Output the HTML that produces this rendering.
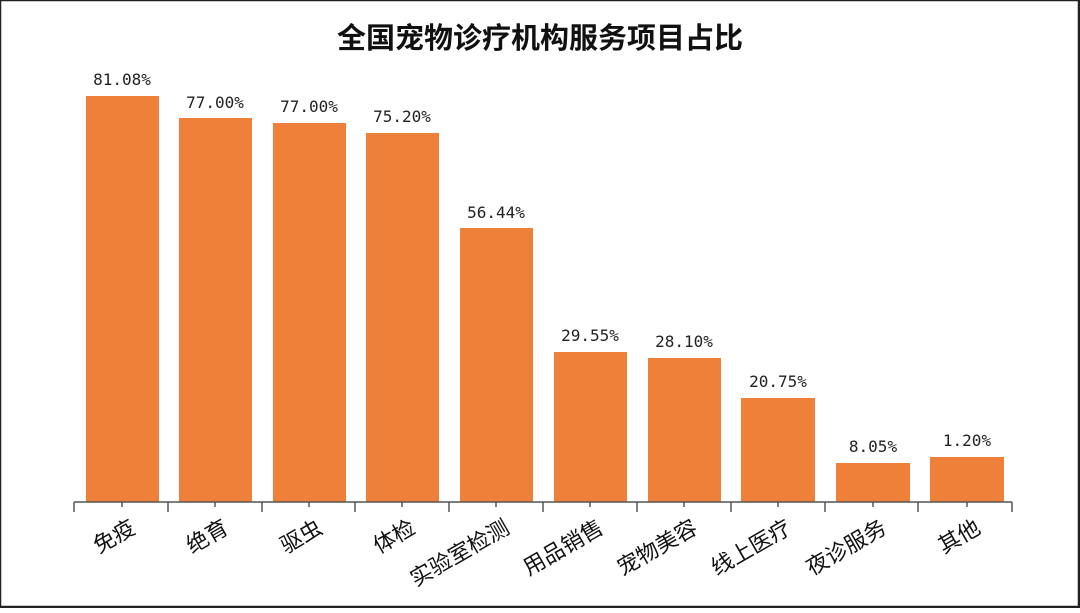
<!DOCTYPE html>
<html><head><meta charset="utf-8"><style>
body{margin:0;width:1080px;height:608px;overflow:hidden;background:#fff}
</style></head><body>
<svg width="1080" height="608" xmlns="http://www.w3.org/2000/svg">
<rect x="0.5" y="0.5" width="1078" height="606" fill="#fff" stroke="#222" stroke-width="1.5"/>
<rect x="1078" y="0" width="2" height="608" fill="#222"/>
<rect x="0" y="606" width="1080" height="2" fill="#222"/>
<text x="540" y="48" text-anchor="middle" font-family="'Liberation Sans','Noto Sans CJK SC',sans-serif" font-size="29" font-weight="bold" fill="#111">全国宠物诊疗机构服务项目占比</text>
<g fill="#ee803a">
<rect x="86" y="96" width="73" height="406"/>
<rect x="179" y="118" width="73" height="384"/>
<rect x="273" y="123" width="73" height="379"/>
<rect x="366" y="133" width="73" height="369"/>
<rect x="460" y="228" width="73" height="274"/>
<rect x="554" y="352" width="73" height="150"/>
<rect x="648" y="358" width="73" height="144"/>
<rect x="741" y="398" width="74" height="104"/>
<rect x="836" y="463" width="74" height="39"/>
<rect x="930" y="457" width="74" height="45"/>
</g>
<g font-family="'DejaVu Sans Mono','Liberation Mono',monospace" font-size="16" fill="#222" text-anchor="middle">
<text x="122" y="85">81.08%</text>
<text x="215" y="108">77.00%</text>
<text x="309" y="112">77.00%</text>
<text x="402" y="122">75.20%</text>
<text x="496" y="218">56.44%</text>
<text x="590" y="341">29.55%</text>
<text x="684" y="347">28.10%</text>
<text x="778" y="387">20.75%</text>
<text x="873" y="452">8.05%</text>
<text x="967" y="446">1.20%</text>
</g>
<g stroke="#555" stroke-width="1.5">
<line x1="74" y1="502" x2="1012" y2="502"/>
<line x1="74" y1="502" x2="74" y2="512"/><line x1="168" y1="502" x2="168" y2="512"/><line x1="262" y1="502" x2="262" y2="512"/><line x1="355" y1="502" x2="355" y2="512"/><line x1="449" y1="502" x2="449" y2="512"/><line x1="543" y1="502" x2="543" y2="512"/><line x1="637" y1="502" x2="637" y2="512"/><line x1="731" y1="502" x2="731" y2="512"/><line x1="825" y1="502" x2="825" y2="512"/><line x1="918" y1="502" x2="918" y2="512"/><line x1="1012" y1="502" x2="1012" y2="512"/>
<line x1="122" y1="502" x2="122" y2="507"/><line x1="215" y1="502" x2="215" y2="507"/><line x1="309" y1="502" x2="309" y2="507"/><line x1="402" y1="502" x2="402" y2="507"/><line x1="496" y1="502" x2="496" y2="507"/><line x1="590" y1="502" x2="590" y2="507"/><line x1="684" y1="502" x2="684" y2="507"/><line x1="778" y1="502" x2="778" y2="507"/><line x1="873" y1="502" x2="873" y2="507"/><line x1="967" y1="502" x2="967" y2="507"/>
</g>
<g font-family="'Liberation Sans','Noto Sans CJK SC',sans-serif" font-size="22" fill="#111" text-anchor="end">
<text transform="translate(137,532) rotate(-30)">免疫</text>
<text transform="translate(230,532) rotate(-30)">绝育</text>
<text transform="translate(324,532) rotate(-30)">驱虫</text>
<text transform="translate(417,532) rotate(-30)">体检</text>
<text transform="translate(511,532) rotate(-30)">实验室检测</text>
<text transform="translate(605,532) rotate(-30)">用品销售</text>
<text transform="translate(699,532) rotate(-30)">宠物美容</text>
<text transform="translate(793,532) rotate(-30)">线上医疗</text>
<text transform="translate(888,532) rotate(-30)">夜诊服务</text>
<text transform="translate(982,532) rotate(-30)">其他</text>
</g>
</svg>
</body></html>
